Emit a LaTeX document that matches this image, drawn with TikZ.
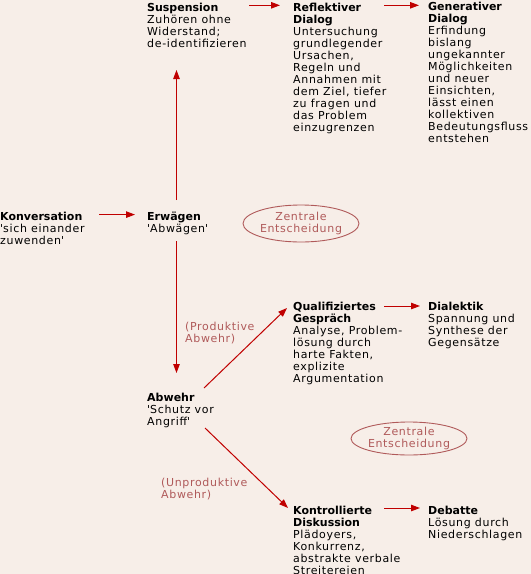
\documentclass[tikz,border=0pt]{standalone}
\usepackage{fontspec}
\setmainfont{DejaVu Sans}[UprightFeatures={LetterSpace=6}]
\usetikzlibrary{arrows.meta,shapes.geometric}
\definecolor{papier}{HTML}{F7EEE8}
\definecolor{dunkelrot}{HTML}{C00000}
\definecolor{altrot}{HTML}{B05A5A}
\newcommand{\hk}{\textquotesingle}
\tikzset{
  stufe/.style={anchor=north west, inner sep=0pt, align=left, font=\fontsize{11}{12}\selectfont},
  hinweis/.style={stufe, text=altrot},
  entscheidung/.style={draw=altrot, line width=0.9pt, ellipse, inner sep=0pt, align=center, text=altrot, font=\fontsize{11}{12}\selectfont},
  pfeil/.style={draw=dunkelrot, line width=1pt, -{Triangle[length=9pt,width=6.5pt]}}
}
\begin{document}
\begin{tikzpicture}[x=1pt, y=-1pt]
    \fill[papier] (0,0) rectangle (531,574);
    \useasboundingbox (0,0) rectangle (531,574);
    % oberer Zweig
    \node (susp) [stufe] at (147,2.6) {\textbf{Suspension}\\Zuhören ohne\\Widerstand;\\de-identifizieren};
    \node (refl) [stufe] at (293,2.6) {\textbf{Reflektiver}\\\textbf{Dialog}\\Untersuchung\\grundlegender\\Ursachen,\\Regeln und\\Annahmen mit\\dem Ziel, tiefer\\zu fragen und\\das Problem\\einzugrenzen};
    \node (gen) [stufe] at (428,1.6) {\textbf{Generativer}\\\textbf{Dialog}\\Erfindung\\bislang\\ungekannter\\Möglichkeiten\\und neuer\\Einsichten,\\lässt einen\\kollektiven\\Bedeutungsfluss\\entstehen};
    % Mitte
    \node (konv) [stufe] at (0,211.6) {\textbf{Konversation}\\\hk sich einander\\zuwenden\hk};
    \node (erw) [stufe] at (147,211.6) {\textbf{Erwägen}\\\hk Abwägen\hk};
    \node (ent1) [entscheidung, minimum width=106pt, minimum height=37pt] at (301,223.5) {Zentrale\\Entscheidung};
    % unterer Zweig
    \node (abwehr) [stufe] at (147,392.6) {\textbf{Abwehr}\\\hk Schutz vor\\Angriff\hk};
    \node (produktiv) [hinweis] at (185,322) {(Produktive\\Abwehr)};
    \node (qual) [stufe] at (293,301.6) {\textbf{Qualifiziertes}\\\textbf{Gespräch}\\Analyse, Problem-\\lösung durch\\harte Fakten,\\explizite\\Argumentation};
    \node (dial) [stufe] at (428,301.6) {\textbf{Dialektik}\\Spannung und\\Synthese der\\Gegensätze};
    \node (ent2) [entscheidung, minimum width=108pt, minimum height=33pt] at (409,438.5) {Zentrale\\Entscheidung};
    \node (unproduktiv) [hinweis] at (161,478) {(Unproduktive\\Abwehr)};
    \node (kontr) [stufe] at (293,505.6) {\textbf{Kontrollierte}\\\textbf{Diskussion}\\Plädoyers,\\Konkurrenz,\\abstrakte verbale\\Streitereien};
    \node (debatte) [stufe] at (428,505.6) {\textbf{Debatte}\\Lösung durch\\Niederschlagen};
    % Pfeile
    \draw[pfeil] ([shift={(102pt,-2.7pt)}]susp.north west) -- ([shift={(-13pt,-2.7pt)}]refl.north west);
    \draw[pfeil] ([shift={(91pt,-2.7pt)}]refl.north west) -- ([shift={(-9pt,-3.7pt)}]gen.north west);
    \draw[pfeil] ([shift={(99pt,-3pt)}]konv.north west) -- ([shift={(-12pt,-3pt)}]erw.north west);
    \draw[pfeil] ([shift={(29.5pt,11.6pt)}]erw.north west) -- ([shift={(29.5pt,-67.4pt)}]susp.north west);
    \draw[pfeil] ([shift={(29.5pt,-29.4pt)}]erw.north west) -- ([shift={(29.5pt,19.6pt)}]abwehr.north west);
    \draw[pfeil] ([shift={(57pt,4.6pt)}]abwehr.north west) -- ([shift={(-6pt,-6.4pt)}]qual.north west);
    \draw[pfeil] ([shift={(58pt,-35.4pt)}]abwehr.north west) -- ([shift={(-5pt,-2.4pt)}]kontr.north west);
    \draw[pfeil] ([shift={(91pt,-4.4pt)}]qual.north west) -- ([shift={(-8pt,-4.4pt)}]dial.north west);
    \draw[pfeil] ([shift={(91pt,-2.4pt)}]kontr.north west) -- ([shift={(-8pt,-2.4pt)}]debatte.north west);
\end{tikzpicture}
\end{document}
